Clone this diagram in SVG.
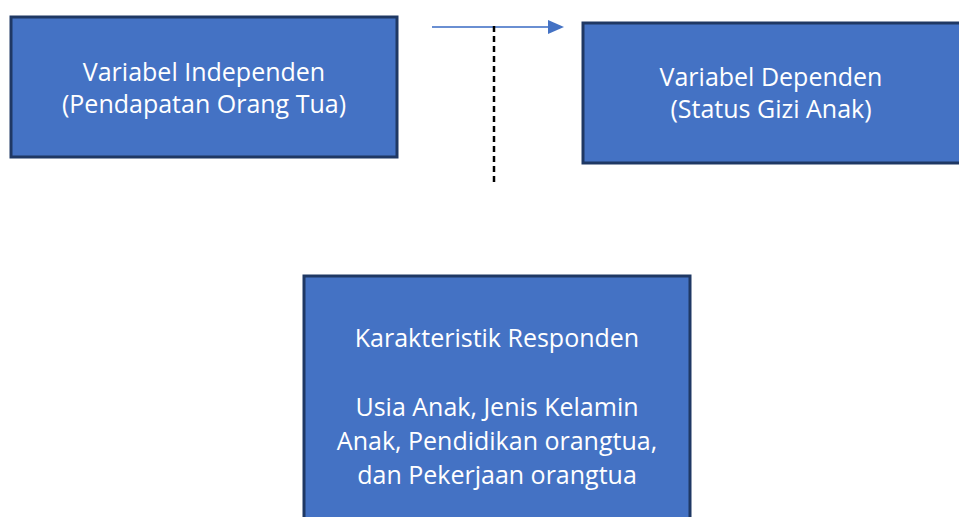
<svg xmlns="http://www.w3.org/2000/svg" width="959" height="517" viewBox="0 0 959 517">
<style>
.box{fill:#4472c4;stroke:#1f3864;stroke-width:3}
.t{font-family:"Open Sans","Noto Sans","DejaVu Sans",sans-serif;font-size:25px;fill:#ffffff;text-anchor:middle}
</style>
<rect width="959" height="517" fill="#ffffff"/>
<g id="connectors">
<line x1="432" y1="27" x2="550" y2="27" stroke="#6a8fd2" stroke-width="2"/>
<path d="M548,20 L564,27 L548,34 Z" fill="#4472c4"/>
<line x1="494" y1="26" x2="494" y2="183" stroke="#000000" stroke-width="2.5" stroke-dasharray="6,4"/>
</g>
<g id="independen">
<rect class="box" x="11" y="17" width="386" height="140"/>
<text class="t" x="204" y="81">Variabel Independen</text>
<text class="t" x="204" y="113">(Pendapatan Orang Tua)</text>
</g>
<g id="dependen">
<rect class="box" x="583" y="23" width="380" height="140"/>
<text class="t" x="771" y="86">Variabel Dependen</text>
<text class="t" x="771" y="118">(Status Gizi Anak)</text>
</g>
<g id="karakteristik">
<rect class="box" x="304" y="276" width="386" height="250"/>
<text class="t" x="497" y="347">Karakteristik Responden</text>
<text class="t" x="497" y="416">Usia Anak, Jenis Kelamin</text>
<text class="t" x="497" y="450">Anak, Pendidikan orangtua,</text>
<text class="t" x="497" y="484">dan Pekerjaan orangtua</text>
</g>
</svg>
